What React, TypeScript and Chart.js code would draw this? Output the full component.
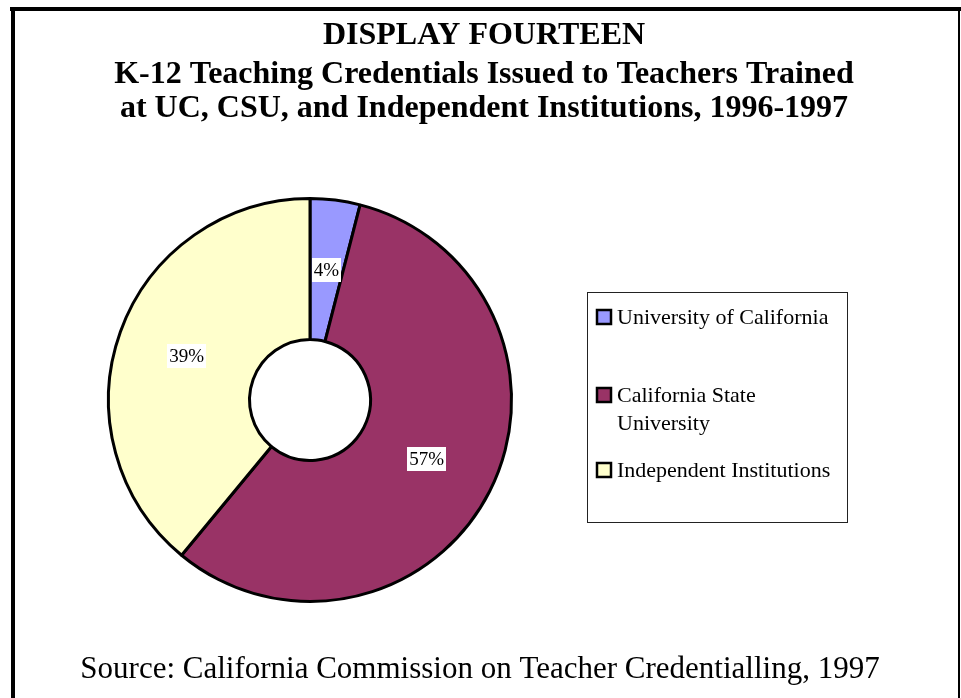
import React, { useEffect, useRef } from 'react';
import { Chart, registerables } from 'chart.js';

Chart.register(...registerables);

const categories = ['University of California', 'California State University', 'Independent Institutions'];
const legendLines = [['University of California'], ['California State', 'University'], ['Independent Institutions']];
const shares = [4, 57, 39];
const sliceColors = ['#9999FF', '#993366', '#FFFFCC'];
const titleLines = [
  'DISPLAY FOURTEEN',
  'K-12 Teaching Credentials Issued to Teachers Trained',
  'at UC, CSU, and Independent Institutions, 1996-1997',
];
const sourceText = 'Source: California Commission on Teacher Credentialling, 1997';

const SERIF = '"Liberation Serif", "Times New Roman", serif';

const decorPlugin = {
  id: 'decor',
  beforeDraw(chart: any) {
    const ctx = chart.ctx;
    ctx.save();
    ctx.fillStyle = '#ffffff';
    ctx.fillRect(0, 0, chart.width, chart.height);
    ctx.restore();
  },
  afterDatasetsDraw(chart: any) {
    const ctx = chart.ctx;
    const meta = chart.getDatasetMeta(0);
    ctx.save();
    ctx.font = `19px ${SERIF}`;
    ctx.textAlign = 'center';
    ctx.textBaseline = 'middle';
    meta.data.forEach((arc: any, i: number) => {
      const p = arc.getCenterPoint();
      const txt = `${shares[i]}%`;
      const w = ctx.measureText(txt).width + 4;
      const h = 24;
      ctx.fillStyle = '#ffffff';
      ctx.fillRect(Math.round(p.x - w / 2), Math.round(p.y - h / 2), Math.round(w), h);
      ctx.fillStyle = '#000000';
      ctx.fillText(txt, p.x, p.y + 1);
    });
    ctx.restore();
  },
  afterDraw(chart: any) {
    const ctx = chart.ctx;
    ctx.save();
    // frame
    ctx.fillStyle = '#000000';
    ctx.fillRect(10, 7, 951, 4);
    ctx.fillRect(11, 7, 4, 691);
    ctx.fillRect(958, 7, 2, 691);

    // title
    ctx.textAlign = 'center';
    ctx.textBaseline = 'alphabetic';
    ctx.font = `bold 32px ${SERIF}`;
    const titleBase = [44, 83, 117];
    titleLines.forEach((t, i) => ctx.fillText(t, 484, titleBase[i]));

    // source
    ctx.font = `31px ${SERIF}`;
    ctx.fillText(sourceText, 480, 678);

    // legend
    ctx.strokeStyle = '#222222';
    ctx.lineWidth = 1;
    ctx.strokeRect(587.5, 292.5, 260, 230);
    const squareTops = [309, 387, 462];
    ctx.font = `22px ${SERIF}`;
    ctx.textAlign = 'left';
    categories.forEach((_, i) => {
      const y = squareTops[i];
      ctx.fillStyle = sliceColors[i];
      ctx.fillRect(597, y + 1, 14, 14);
      ctx.strokeStyle = '#000000';
      ctx.lineWidth = 2.5;
      ctx.strokeRect(597, y + 1, 14, 14);
      ctx.fillStyle = '#000000';
      legendLines[i].forEach((ln, j) => ctx.fillText(ln, 617, y + 15 + j * 28));
    });
    ctx.restore();
  },
};

export default function App() {
  const ref = useRef<HTMLCanvasElement | null>(null);
  useEffect(() => {
    if (!ref.current) return;
    const chart = new Chart(ref.current, {
      type: 'doughnut',
      data: {
        labels: categories,
        datasets: [
          {
            data: shares,
            backgroundColor: sliceColors,
            borderColor: '#000000',
            borderWidth: 3,
            hoverOffset: 0,
          },
        ],
      },
      options: {
        animation: false,
        responsive: false,
        devicePixelRatio: 1,
        cutout: '30%',
        layout: { padding: { left: 107, top: 197, right: 448, bottom: 95 } },
        plugins: {
          legend: { display: false },
          title: { display: false },
          tooltip: { enabled: false },
        },
      },
      plugins: [decorPlugin],
    });
    return () => chart.destroy();
  }, []);
  return (
    <div style={{ position: 'fixed', left: 0, top: 0, width: 961, height: 698, background: '#fff' }}>
      <canvas ref={ref} width={961} height={698} style={{ width: 961, height: 698, display: 'block' }} />
    </div>
  );
}
